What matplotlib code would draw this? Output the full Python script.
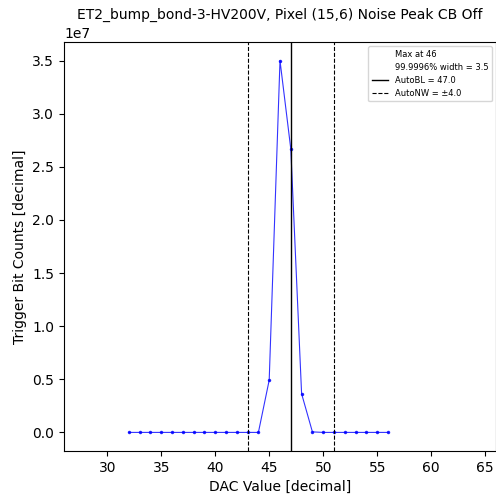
import matplotlib
matplotlib.use("Agg")
import matplotlib.pyplot as plt
from matplotlib.lines import Line2D

dac = list(range(32, 57))
counts = [0, 0, 0, 0, 0, 0, 0, 0, 0, 0, 0, 0, 0,
          4.92e6, 3.50e7, 2.668e7, 3.64e6, 5e4,
          0, 0, 0, 0, 0, 0, 0]
auto_bl = 47.0
auto_nw = 4.0
max_at = 46
width_999 = 3.5
title = "ET2_bump_bond-3-HV200V, Pixel (15,6) Noise Peak CB Off"

fig = plt.figure(figsize=(4.96, 4.97), dpi=100)
ax = fig.add_axes([64/496, 46/497, 432/496, 409/497])

ax.plot(dac, counts, color="blue", marker=".", markersize=3, linewidth=0.8, alpha=0.8)
ax.axvline(auto_bl, color="black", linewidth=1)
ax.axvline(auto_bl - auto_nw, color="black", linestyle="--", linewidth=0.8)
ax.axvline(auto_bl + auto_nw, color="black", linestyle="--", linewidth=0.8)

ax.set_xlim(26, 66)
ax.set_xticks(range(30, 66, 5))
ax.set_title(title, fontsize=10)
ax.set_xlabel("DAC Value [decimal]", fontsize=10)
ax.set_ylabel("Trigger Bit Counts [decimal]", fontsize=10)
ax.tick_params(labelsize=10)
ax.yaxis.get_offset_text().set_fontsize(10)

handles = [
    Line2D([], [], color="none"),
    Line2D([], [], color="none"),
    Line2D([], [], color="black", linewidth=1),
    Line2D([], [], color="black", linestyle="--", linewidth=0.8),
]
labels = [f"Max at {max_at}", f"99.9996% width = {width_999}",
          f"AutoBL = {auto_bl}", f"AutoNW = \u00b1{auto_nw}"]
ax.legend(handles, labels, loc="upper right", fontsize=6)

fig.savefig("out.png", dpi=100)
